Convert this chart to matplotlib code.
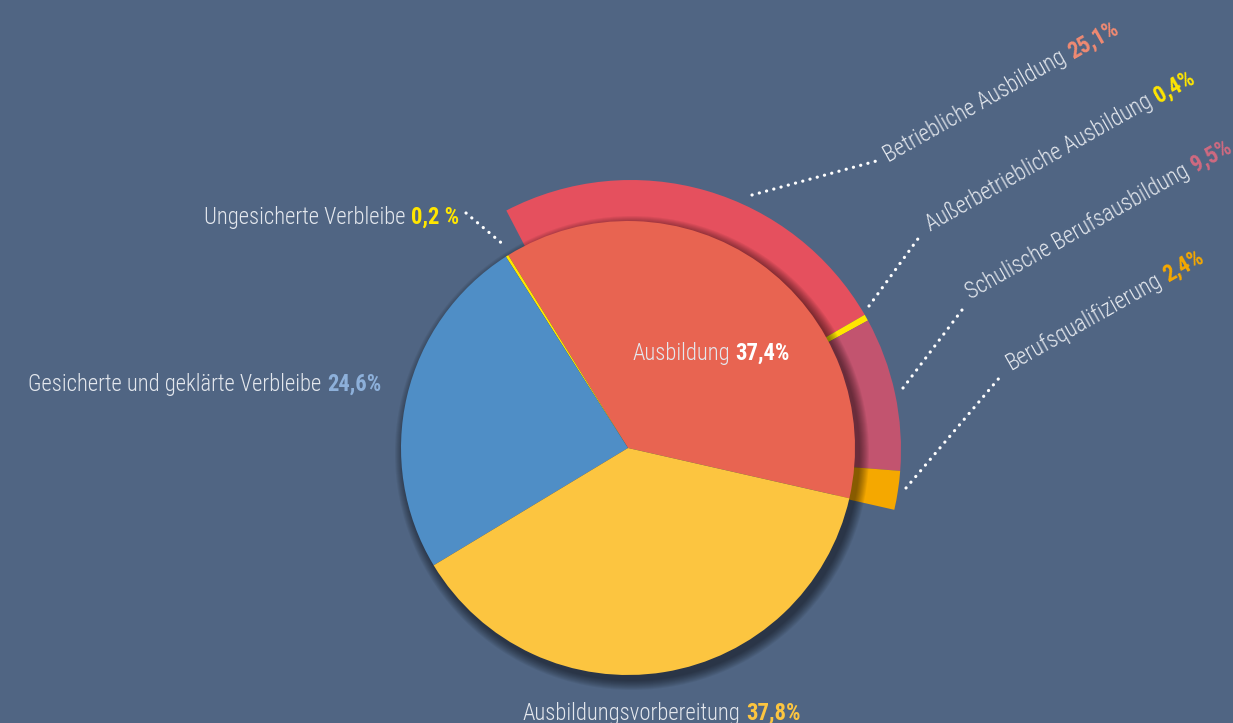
import matplotlib
matplotlib.use("Agg")
import matplotlib.pyplot as plt
from matplotlib.patches import Circle
import numpy as np

# Daten
main_labels = ["Ausbildung", "Ungesicherte Verbleibe", "Gesicherte und geklärte Verbleibe", "Ausbildungsvorbereitung"]
main_values = [37.4, 0.2, 24.6, 37.8]
main_texts = ["37,4%", "0,2 %", "24,6%", "37,8%"]
main_colors = ["#E86451", "#FFE600", "#4F8EC6", "#FCC540"]

ring_labels = ["Betriebliche Ausbildung", "Außerbetriebliche Ausbildung", "Schulische Berufsausbildung", "Berufsqualifizierung"]
ring_values = [25.1, 0.4, 9.5, 2.4]
ring_texts = ["25,1%", "0,4%", "9,5%", "2,4%"]
ring_colors = ["#E5505E", "#FFE600", "#C2546F", "#F5A800"]
ring_value_colors = ["#F08A72", "#FFE600", "#CF6A80", "#F5A800"]

W, H = 1233, 723
BG = "#506583"
TXT = "#E4E8EE"
FONT = ["Roboto Condensed", "DejaVu Sans"]

fig = plt.figure(figsize=(W / 100, H / 100), dpi=100, facecolor=BG)
ax = fig.add_axes([0, 0, 1, 1])
ax.set_facecolor(BG)


def py(y):
    # Pixel von oben -> Datenkoordinate
    return H - y


pie_c = (628, py(448))
pie_r = 227
ring_c = (631, py(450))
ring_r = 270
ring_span = 130.3
start = -12.8

# Aeusserer Ring (Aufteilung der Ausbildung)
ring_frac = [v / sum(ring_values) * ring_span / 360 for v in ring_values]
ax.pie(ring_frac, colors=ring_colors, radius=ring_r, center=ring_c, counterclock=False,
       startangle=start + ring_span, normalize=False,
       wedgeprops=dict(width=60, linewidth=0))

# weicher Schatten unter dem Kreis
for k in range(10):
    ax.add_patch(Circle((pie_c[0] + 4, pie_c[1] - 5), pie_r + 10 - k, color="black",
                        alpha=0.055, linewidth=0, zorder=2))

wedges, _ = ax.pie(main_values, colors=main_colors, radius=pie_r, center=pie_c,
                   startangle=start, counterclock=True, wedgeprops=dict(linewidth=0))
for w in wedges:
    w.set_zorder(3)

ax.set_xlim(0, W)
ax.set_ylim(0, H)
ax.set_aspect("equal")
ax.axis("off")

renderer = fig.canvas.get_renderer()


def rich(x, y, name, value, vcolor, size, rot=0, ha="left"):
    t = ax.text(0, 0, name, fontsize=size, family=FONT, weight=300)
    wn = t.get_window_extent(renderer).width
    t.remove()
    t = ax.text(0, 0, value, fontsize=size, family=FONT, weight="bold")
    wv = t.get_window_extent(renderer).width
    t.remove()
    gap = size * 0.36
    total = wn + gap + wv
    if ha == "right":
        off = -total
    elif ha == "center":
        off = -total / 2
    else:
        off = 0
    a = np.deg2rad(rot)
    d = np.array([np.cos(a), np.sin(a)])
    p0 = np.array([x, py(y)]) + off * d
    p1 = p0 + (wn + gap) * d
    ax.text(p0[0], p0[1], name, fontsize=size, family=FONT, weight=300, color=TXT, rotation=rot,
            rotation_mode="anchor", ha="left", va="baseline", zorder=6)
    ax.text(p1[0], p1[1], value, fontsize=size, family=FONT, color=vcolor, rotation=rot,
            rotation_mode="anchor", ha="left", va="baseline", weight="bold", zorder=6)


def leader(x0, y0, x1, y1):
    ax.plot([x0, x1], [py(y0), py(y1)], color="white", linestyle=(0, (0.05, 2.3)),
            linewidth=2.3, dash_capstyle="round", zorder=5)


fs = 16.3
# Hauptkreis-Beschriftungen
rich(711, 360, main_labels[0], main_texts[0], "white", fs, ha="center")
rich(459, 224, main_labels[1], main_texts[1], "#FFE600", fs, ha="right")
rich(381, 391, main_labels[2], main_texts[2], "#8DB0DA", fs, ha="right")
rich(662, 720, main_labels[3], main_texts[3], main_colors[3], fs, ha="center")
leader(466, 213, 505, 246)

# Ring-Beschriftungen (schraeg)
rot = 29.5
ring_pos = [(889, 163), (931, 232), (971, 300), (1011, 371)]
ring_lead = [((752, 195), (880, 160)), ((869, 306), (920, 236)),
             ((903, 388), (962, 310)), ((906, 488), (1000, 377))]
for (x, y), lab, val, col, (s, e) in zip(ring_pos, ring_labels, ring_texts, ring_value_colors, ring_lead):
    rich(x, y, lab, val, col, fs, rot=rot)
    leader(s[0], s[1], e[0], e[1])

fig.savefig("out.png", dpi=100, facecolor=BG)
